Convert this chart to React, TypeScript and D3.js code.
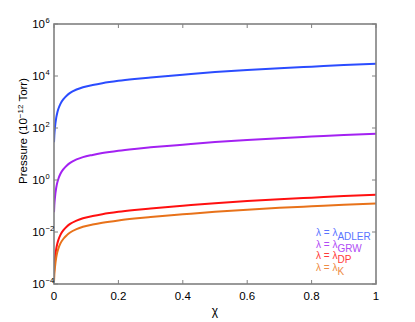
import React from "react";
import * as d3 from "d3";

const chi = [0, 0.001, 0.003, 0.007, 0.01, 0.014, 0.02, 0.03, 0.04, 0.05, 0.07, 0.09, 0.12, 0.15, 0.2, 0.25, 0.3, 0.4, 0.5, 0.6, 0.7, 0.8, 0.9, 1.0];
const pAdler = [28.2, 52.5, 105, 251, 380, 562, 851, 1318, 1778, 2239, 3020, 3715, 4519, 5309, 6531, 7674, 8810, 11220, 14125, 16982, 19953, 22909, 26303, 29512];
const pGrw = [0.0576, 0.107, 0.214, 0.513, 0.776, 1.148, 1.738, 2.69, 3.63, 4.57, 6.17, 7.59, 9.23, 10.84, 13.34, 15.67, 17.99, 22.91, 28.84, 34.68, 40.74, 46.78, 53.71, 60.26];
const pDp = [0.000257, 0.000479, 0.000958, 0.00229, 0.00347, 0.00513, 0.00776, 0.01202, 0.01622, 0.02042, 0.02754, 0.03388, 0.04121, 0.04842, 0.05956, 0.07, 0.08035, 0.1023, 0.1288, 0.1549, 0.182, 0.2089, 0.2399, 0.2691];
const pK = [0.00012, 0.000224, 0.000448, 0.00107, 0.00162, 0.0024, 0.00363, 0.00563, 0.00759, 0.00956, 0.0129, 0.01586, 0.0193, 0.02267, 0.02789, 0.03277, 0.03762, 0.04791, 0.06031, 0.07251, 0.0852, 0.09782, 0.1123, 0.126];

const seriesNames = ["ADLER", "GRW", "DP", "K"];
const seriesValues = [pAdler, pGrw, pDp, pK];
const seriesColors = ["#2b4cff", "#a321f2", "#ff1010", "#e8721a"];
const legendColors = ["#5a74ff", "#b04cf5", "#ff3a3a", "#ee8c45"];

const xTicks = [0, 0.2, 0.4, 0.6, 0.8, 1];
const xTickLabels = ["0", "0.2", "0.4", "0.6", "0.8", "1"];
const yTickExps = [-4, -2, 0, 2, 4, 6];

const W = 415, H = 322;
const L = 54, R = 376, T = 24, B = 284;
const font = "'Liberation Sans', Arial, Helvetica, sans-serif";
const axisColor = "#808080";

export default function App() {
  const x = d3.scaleLinear().domain([0, 1]).range([L, R]);
  const y = d3.scaleLog().domain([1e-4, 1e6]).range([B, T]);
  const line = d3
    .line<[number, number]>()
    .x((d) => x(d[0]))
    .y((d) => y(d[1]))
    .curve(d3.curveMonotoneX);

  return (
    <svg width={W} height={H} style={{ position: "absolute", left: 0, top: 0, background: "#fff" }} fontFamily={font}>
      <rect x={0} y={0} width={W} height={H} fill="#fff" />
      <defs>
        <clipPath id="plotclip">
          <rect x={L} y={T} width={R - L} height={B - T} />
        </clipPath>
      </defs>
      <g clipPath="url(#plotclip)">
        {seriesValues.map((vals, i) => (
          <path
            key={i}
            d={line(chi.map((c, j) => [c, vals[j]] as [number, number])) || ""}
            fill="none"
            stroke={seriesColors[i]}
            strokeWidth={2}
          />
        ))}
      </g>
      <rect x={L} y={T} width={R - L} height={B - T} fill="none" stroke={axisColor} strokeWidth={1.6} />
      {xTicks.map((t, i) => (
        <g key={"xt" + i}>
          <line x1={x(t)} x2={x(t)} y1={B} y2={B - 4} stroke={axisColor} strokeWidth={1} />
          <line x1={x(t)} x2={x(t)} y1={T} y2={T + 4} stroke={axisColor} strokeWidth={1} />
          <text x={x(t)} y={300} fontSize={11.5} textAnchor="middle" fill="#000">
            {xTickLabels[i]}
          </text>
        </g>
      ))}
      {yTickExps.map((e, i) => {
        const yy = y(Math.pow(10, e));
        return (
          <g key={"yt" + i}>
            <line x1={L} x2={L + 4} y1={yy} y2={yy} stroke={axisColor} strokeWidth={1} />
            <line x1={R} x2={R - 4} y1={yy} y2={yy} stroke={axisColor} strokeWidth={1} />
            <text x={45} y={yy + 4} fontSize={11.5} textAnchor="end" fill="#000">
              10
            </text>
            <text x={45.5} y={yy - 1.5} fontSize={7.5} textAnchor="start" fill="#000">
              {e < 0 ? "\u2212" + Math.abs(e) : String(e)}
            </text>
          </g>
        );
      })}
      <text x={215} y={315} fontSize={12} textAnchor="middle" fill="#000">
        χ
      </text>
      <text transform={`translate(27,131) rotate(-90)`} fontSize={11.5} textAnchor="middle" fill="#000">
        <tspan>Pressure (10</tspan>
        <tspan dy={-4.5} fontSize={8}>{"\u221212"}</tspan>
        <tspan dy={4.5}> Torr)</tspan>
      </text>
      {seriesNames.map((n, i) => (
        <text key={"lg" + i} x={316} y={236 + i * 11.7} fontSize={10} fill={legendColors[i]}>
          <tspan>λ = λ</tspan>
          <tspan dy={4} fontSize={10}>{n}</tspan>
        </text>
      ))}
    </svg>
  );
}
